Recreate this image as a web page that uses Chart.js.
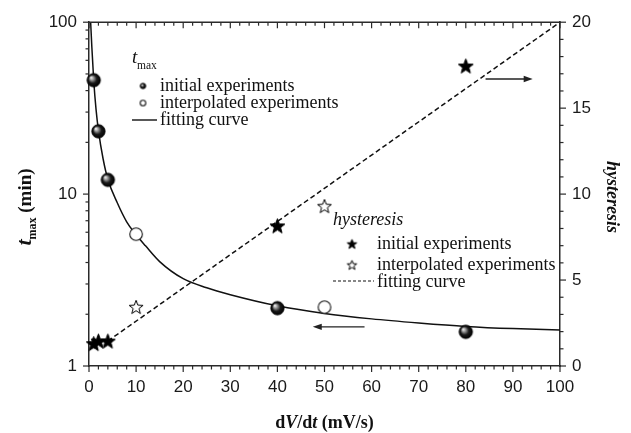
<!DOCTYPE html>
<html><head><meta charset="utf-8">
<script src="https://cdn.jsdelivr.net/npm/chart.js@4/dist/chart.umd.min.js"></script>
<style>html,body{margin:0;padding:0;background:#fff;}#wrap{width:631px;height:433px;}</style>
</head><body><div id="wrap"><canvas id="c" width="631" height="433"></canvas></div>
<script>
// ---- data ----
const xTickValues = [0,10,20,30,40,50,60,70,80,90,100];
const yLeftTickLabels = [1,10,100];
const yRightTickValues = [0,5,10,15,20];

const tmaxInitialX = [1,2,4,40,80];
const tmaxInitialY = [46,23.2,12.1,2.17,1.58];
const tmaxInterpX = [10,50];
const tmaxInterpY = [5.85,2.2];
const tmaxFitX = [0.35,0.6,1,1.5,2,3,4,6,8,10,12,15,20,25,30,40,50,60,70,80,90,100];
const tmaxFitY = [100,72,46,31,23.5,16,12.2,8.9,6.9,5.8,5.0,4.05,3.22,2.85,2.6,2.24,2.02,1.88,1.78,1.7,1.65,1.62];

const hystInitialX = [1,2,4,40,80];
const hystInitialY = [1.3,1.45,1.45,8.15,17.45];
const hystInterpX = [10,50];
const hystInterpY = [3.43,9.3];
const hystFitX = [4,100];
const hystFitY = [1.45,20];

// arrow annotations (data coordinates)
const leftArrow = {x1:58.5, x2:47.5, y:1.69};    // on t_max axis, points left
const rightArrow = {x1:84.2, x2:94.2, y:16.7};   // on hysteresis axis, points right

function pts(xs, ys){ return xs.map((x,i)=>({x:x, y:ys[i]})); }

// ---- marker images ----
function ballImg(r){
  const s=Math.ceil(2*r+3), c=document.createElement('canvas'); c.width=c.height=s;
  const g=c.getContext('2d'), cx=s/2, cy=s/2;
  const gr=g.createRadialGradient(cx-r*0.4,cy-r*0.4,r*0.05,cx,cy,r);
  gr.addColorStop(0,'#f2f2f2'); gr.addColorStop(0.25,'#9a9a9a'); gr.addColorStop(0.6,'#1a1a1a'); gr.addColorStop(1,'#000');
  g.fillStyle=gr; g.beginPath(); g.arc(cx,cy,r,0,Math.PI*2); g.fill();
  g.strokeStyle='#000'; g.lineWidth=0.8; g.stroke();
  return c;
}
function circleImg(r){
  const s=Math.ceil(2*r+3), c=document.createElement('canvas'); c.width=c.height=s;
  const g=c.getContext('2d');
  g.fillStyle='#fff'; g.strokeStyle='#111'; g.lineWidth=1.1;
  g.beginPath(); g.arc(s/2,s/2,r,0,Math.PI*2); g.fill(); g.stroke();
  return c;
}
function starPath(g,cx,cy,R){
  const r=R*0.42; g.beginPath();
  for(let i=0;i<10;i++){
    const a=-Math.PI/2+i*Math.PI/5, rr=i%2===0?R:r;
    const px=cx+rr*Math.cos(a), py=cy+rr*Math.sin(a);
    if(i===0) g.moveTo(px,py); else g.lineTo(px,py);
  }
  g.closePath();
}
function starImg(R, filled){
  const s=Math.ceil(2*R+3), c=document.createElement('canvas'); c.width=c.height=s;
  const g=c.getContext('2d');
  starPath(g,s/2,s/2+R*0.08,R);
  g.fillStyle=filled?'#000':'#fff'; g.fill();
  g.strokeStyle='#000'; g.lineWidth=1; g.lineJoin='miter'; g.stroke();
  return c;
}

const ball=ballImg(6.7), circ=circleImg(6.3), starF=starImg(7.8,true), starO=starImg(7.3,false);
const ballS=ballImg(2.8), circS=circleImg(2.8), starFS=starImg(5,true), starOS=starImg(5,false);

function line(ctx,x1,y1,x2,y2){ctx.beginPath();ctx.moveTo(x1,y1);ctx.lineTo(x2,y2);ctx.stroke();}
function arrow(ctx,x1,y,x2){
  const dir=Math.sign(x2-x1);
  ctx.lineWidth=1.4; line(ctx,x1,y,x2-dir*6,y);
  ctx.beginPath(); ctx.moveTo(x2,y); ctx.lineTo(x2-dir*9,y-3.2); ctx.lineTo(x2-dir*9,y+3.2); ctx.closePath(); ctx.fill();
}
function segs(ctx, parts, x, y){
  let cx=x;
  for(const p of parts){ ctx.font=p[1]; ctx.fillText(p[0],cx,y+(p[2]||0)); cx+=ctx.measureText(p[0]).width; }
  return cx-x;
}
function segsWidth(ctx, parts){ let w=0; for(const p of parts){ctx.font=p[1]; w+=ctx.measureText(p[0]).width;} return w; }

const decor = {
  id:'decor',
  afterDraw(chart){
    const {ctx, chartArea:a, scales} = chart;
    const x=scales.x, y=scales.y, y2=scales.y2;
    ctx.save();
    ctx.strokeStyle='#2a2a2a'; ctx.fillStyle='#111'; ctx.lineWidth=1.5;
    line(ctx,a.left-0.75,a.top,a.right+0.75,a.top);
    ctx.lineWidth=1.2;
    for(let v=0; v<=100; v+=2){
      const p=x.getPixelForValue(v), L=(v%10===0)?6:3.5;
      line(ctx,p,a.bottom,p,a.bottom+L);
      line(ctx,p,a.top,p,a.top+L);
    }
    for(const dec of [1,10]){
      for(let m=1;m<=9;m++){
        const p=y.getPixelForValue(dec*m), L=(m===1)?6:3.5;
        line(ctx,a.left-L,p,a.left,p);
      }
    }
    line(ctx,a.left-6,y.getPixelForValue(100),a.left,y.getPixelForValue(100));
    for(let v=0; v<=20; v++){
      const p=y2.getPixelForValue(v), L=(v%5===0)?6:3.5;
      line(ctx,a.right,p,a.right+L,p);
    }
    ctx.strokeStyle='#222'; ctx.fillStyle='#222';
    arrow(ctx, x.getPixelForValue(leftArrow.x1), y.getPixelForValue(leftArrow.y), x.getPixelForValue(leftArrow.x2));
    arrow(ctx, x.getPixelForValue(rightArrow.x1), y2.getPixelForValue(rightArrow.y), x.getPixelForValue(rightArrow.x2));

    ctx.fillStyle='#111'; ctx.textBaseline='alphabetic'; ctx.textAlign='left';
    ctx.font='italic 19px "Liberation Serif"'; ctx.fillText('t',132,63);
    ctx.font='11.5px "Liberation Serif"'; ctx.fillText('max',137,69);
    ctx.font='18px "Liberation Serif"';
    ctx.drawImage(ballS,143-ballS.width/2,86-ballS.height/2);
    ctx.fillText('initial experiments',160,91);
    ctx.drawImage(circS,143-circS.width/2,103-circS.height/2);
    ctx.fillText('interpolated experiments',160,108);
    ctx.strokeStyle='#111'; ctx.lineWidth=1.4; ctx.setLineDash([]);
    line(ctx,132,120,157,120);
    ctx.fillText('fitting curve',160,125);

    ctx.font='italic 18px "Liberation Serif"'; ctx.fillText('hysteresis',333,225);
    ctx.font='18px "Liberation Serif"';
    ctx.drawImage(starFS,352-starFS.width/2,244-starFS.height/2);
    ctx.fillText('initial experiments',377,249);
    ctx.drawImage(starOS,352-starOS.width/2,265-starOS.height/2);
    ctx.fillText('interpolated experiments',377,270);
    ctx.setLineDash([3,2]); ctx.lineWidth=1.2;
    line(ctx,333,281,374,281); ctx.setLineDash([]);
    ctx.fillText('fitting curve',377,287);

    ctx.fillStyle='#111';
    const xt=[['d','bold 18px "Liberation Serif"'],['V','bold italic 18px "Liberation Serif"'],['/d','bold 18px "Liberation Serif"'],['t','bold italic 18px "Liberation Serif"'],[' (mV/s)','bold 18px "Liberation Serif"']];
    const xw=segsWidth(ctx,xt);
    segs(ctx,xt,(a.left+a.right)/2-xw/2,428);

    const yt=[['t','bold italic 22px "Liberation Serif"',0],['max','bold 12px "Liberation Serif"',5],[' (min)','bold 19px "Liberation Serif"',0]];
    const yw=segsWidth(ctx,yt);
    ctx.save(); ctx.translate(31,207); ctx.rotate(-Math.PI/2);
    segs(ctx,yt,-yw/2,0); ctx.restore();

    ctx.save(); ctx.translate(607,197); ctx.rotate(Math.PI/2);
    ctx.font='bold italic 18px "Liberation Serif"'; ctx.textAlign='center';
    ctx.fillText('hysteresis',0,0); ctx.restore();
    ctx.restore();
  }
};

const tickFont={family:'"Liberation Sans", Arial, sans-serif', size:17};

new Chart(document.getElementById('c'), {
  type:'scatter',
  data:{datasets:[
    {label:'tmax initial', data:pts(tmaxInitialX,tmaxInitialY), yAxisID:'y', pointStyle:ball, pointRadius:7, showLine:false, clip:false},
    {label:'tmax interpolated', data:pts(tmaxInterpX,tmaxInterpY), yAxisID:'y', pointStyle:circ, pointRadius:7, showLine:false, clip:false},
    {label:'hyst initial', data:pts(hystInitialX,hystInitialY), yAxisID:'y2', pointStyle:starF, pointRadius:8, showLine:false, clip:false},
    {label:'hyst interpolated', data:pts(hystInterpX,hystInterpY), yAxisID:'y2', pointStyle:starO, pointRadius:8, showLine:false, clip:false},
    {label:'tmax fit', data:pts(tmaxFitX,tmaxFitY), yAxisID:'y', showLine:true, pointRadius:0, borderColor:'#111', borderWidth:1.5, cubicInterpolationMode:'monotone', fill:false},
    {label:'hyst fit', data:pts(hystFitX,hystFitY), yAxisID:'y2', showLine:true, pointRadius:0, borderColor:'#111', borderWidth:1.5, borderDash:[5,3], fill:false}
  ]},
  options:{
    responsive:false, animation:false, devicePixelRatio:1,
    layout:{padding:{top:16,left:0,right:0,bottom:0}},
    plugins:{legend:{display:false}, tooltip:{enabled:false}},
    scales:{
      x:{type:'linear', position:'bottom', min:0, max:100,
        afterBuildTicks:s=>{s.ticks=xTickValues.map(v=>({value:v}));},
        afterFit:s=>{s.height=67;},
        grid:{display:false, drawTicks:false}, border:{display:true,color:'#2a2a2a',width:1.5},
        ticks:{color:'#1a1a1a', font:tickFont, padding:11, maxRotation:0}},
      y:{type:'logarithmic', position:'left', min:1, max:100,
        afterFit:s=>{s.width=89;},
        grid:{display:false, drawTicks:false}, border:{display:true,color:'#2a2a2a',width:1.5},
        ticks:{color:'#1a1a1a', font:tickFont, padding:12, autoSkip:false,
          callback:v=>yLeftTickLabels.includes(v)?String(v):null}},
      y2:{type:'linear', position:'right', min:0, max:20,
        afterBuildTicks:s=>{s.ticks=yRightTickValues.map(v=>({value:v}));},
        afterFit:s=>{s.width=71;},
        grid:{display:false, drawTicks:false}, border:{display:true,color:'#2a2a2a',width:1.5},
        ticks:{color:'#1a1a1a', font:tickFont, padding:12}}
    }
  },
  plugins:[decor]
});
</script></body></html>
